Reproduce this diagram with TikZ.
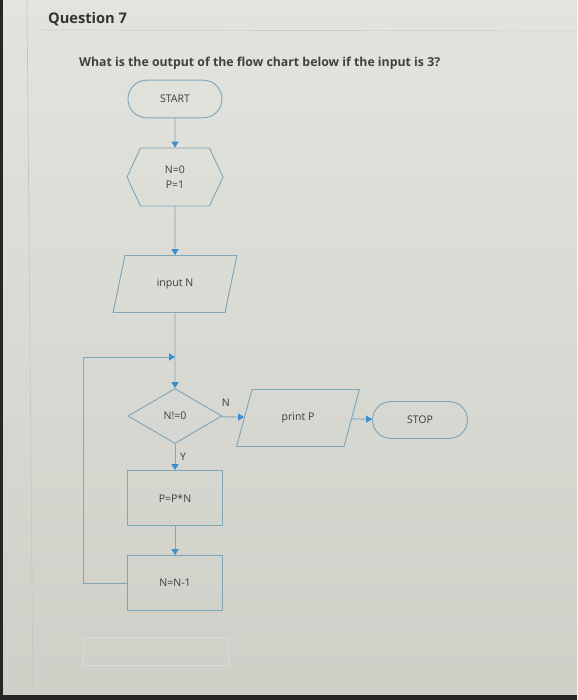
\documentclass[tikz,border=0pt]{standalone}
\usepackage{fontspec}
\setmainfont{Open Sans}
\usetikzlibrary{positioning, shapes.geometric, shapes.misc, shapes.symbols, arrows.meta}
\definecolor{paper}{HTML}{E4E4DF}
\definecolor{paperdark}{HTML}{CFCFC8}
\definecolor{edge}{HTML}{7FA6BA}
\definecolor{tipblue}{HTML}{3E8ECC}
\definecolor{ink}{HTML}{3C3C3C}

\begin{document}
\begin{tikzpicture}[x=0.03cm, y=-0.03cm,
    base/.style={draw=edge, line width=0.8pt, text=ink, font=\fontsize{9}{11}\selectfont, align=center, inner sep=0pt},
    term/.style={base, rounded rectangle, minimum width=2.82cm, minimum height=1.13cm},
    prep/.style={base, signal, signal to=west and east, signal pointer angle=130, minimum width=2.88cm, minimum height=1.74cm},
    io/.style={base, trapezium, trapezium stretches, trapezium left angle=#1, trapezium right angle=180-#1, minimum width=3.72cm, minimum height=1.71cm},
    decision/.style={base, diamond, minimum width=2.82cm, minimum height=1.65cm},
    proc/.style={base, rectangle, minimum width=2.85cm, minimum height=1.65cm},
    arrow/.style={draw=edge, line width=0.8pt, -{Triangle[length=5pt, width=6pt, color=tipblue]}},
    lbl/.style={text=ink, font=\fontsize{9}{11}\selectfont, inner sep=1pt}
]
% Page
\useasboundingbox (0,0) rectangle (577,700);
\begin{scope}
\clip (0,0) rectangle (577,700);
\fill[paperdark] (-5,-5) rectangle (585,705);
\shade[top color=paper, bottom color=paperdark] (-5,-5) rectangle (585,705);
\end{scope}
\fill[black!85] (0,0) rectangle (3,700);
\fill[black!85] (0,695) rectangle (577,700);
\draw[gray!45, line width=0.6pt] (27,0) -- (33,695);
\draw[gray!40, line width=0.6pt] (40,30) -- (577,31);
\draw[gray!28, line width=0.5pt] (83,637) rectangle (228,665);

% Texts
\node[anchor=west, text=black!80, font=\fontsize{12.5}{14}\selectfont\bfseries] (title) at (44,19) {Question 7};
\node[anchor=west, text=black!75, font=\fontsize{10.5}{12}\selectfont\bfseries] (question) at (75,63) {What is the output of the flow chart below if the input is 3?};

% Nodes
\node[term] (start) at (175,99) {START};
\node[prep] (init) at (175,177) {N=0\\[2pt]P=1};
\node[io=67] (input) at (175,284) {input N};
\node[decision] (check) at (175,416) {N!=0};
\node[proc] (mult) at (175,498) {P=P*N};
\node[proc] (dec) at (175,583) {N=N-1};
\node[io=62, minimum width=3.69cm] (print) at (298,418) {print P};
\node[term, minimum width=2.85cm, minimum height=1.11cm] (stop) at (420,420) {STOP};
\coordinate (join) at (175,357);
\coordinate (loop) at (83,357);

% Arrows
\draw[arrow] (start) -- (init);
\draw[arrow] (init) -- (input);
\draw[arrow] (input) -- (check);
\draw[arrow] (check) -- node[lbl, pos=0.2, above=7pt] {N} (print);
\draw[arrow] (print) -- (stop);
\draw[arrow] (check) -- node[lbl, right=3pt] {Y} (mult);
\draw[arrow] (mult) -- (dec);
\draw[draw=edge, line width=0.8pt] (dec.west) -| (loop);
\draw[arrow] (loop) -- (join);
\end{tikzpicture}
\end{document}
